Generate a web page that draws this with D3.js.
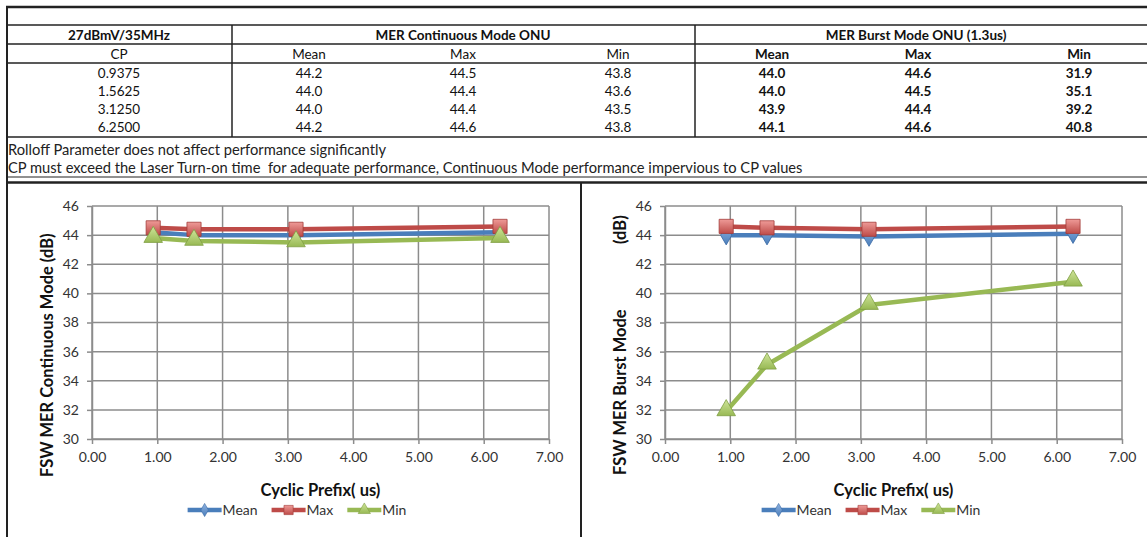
<!DOCTYPE html>
<html lang="en">
<head>
    <meta charset="UTF-8">
    <title>MER vs Cyclic Prefix</title>
    <script src="https://d3js.org/d3.v7.min.js"></script>
    <style>
        body {
            margin: 0;
            background: #fff;
        }

        svg {
            display: block;
            font-family: Lato, "Open Sans", sans-serif;
        }

        .cell {
            font-size: 13.5px;
            fill: #111;
        }

        .note {
            font-size: 14.7px;
            fill: #222;
            white-space: pre;
        }

        .tick text {
            font-size: 14px;
            fill: #333;
        }

        .axis-title {
            font-size: 16.5px;
            font-weight: bold;
            fill: #111;
        }

        .legend-label {
            font-size: 14px;
            fill: #333;
        }
    </style>
</head>
<body>
    <svg id="page" width="1147" height="537"></svg>
    <script>
        const cpValues = [0.9375, 1.5625, 3.125, 6.25];

        const contMean = [44.2, 44.0, 44.0, 44.2];
        const contMax  = [44.5, 44.4, 44.4, 44.6];
        const contMin  = [43.8, 43.6, 43.5, 43.8];

        const burstMean = [44.0, 44.0, 43.9, 44.1];
        const burstMax  = [44.6, 44.5, 44.4, 44.6];
        const burstMin  = [31.9, 35.1, 39.2, 40.8];

        const seriesNames = ["Mean", "Max", "Min"];
        const xTicks = [0, 1, 2, 3, 4, 5, 6, 7];
        const yTicks = [30, 32, 34, 36, 38, 40, 42, 44, 46];

        const notes = [
            "Rolloff Parameter does not affect performance significantly",
            "CP must exceed the Laser Turn-on time  for adequate performance, Continuous Mode performance impervious to CP values"
        ];

        const lineColors = { Mean: "#4a7ebb", Max: "#be4b48", Min: "#98b954" };
        const lightColors = { Mean: "#8fb2e0", Max: "#ee9a97", Min: "#cfe59a" };
        const edgeColors = { Mean: "#3a6aa5", Max: "#a23b38", Min: "#7f9e42" };

        const svg = d3.select("#page");
        const lineStroke = "#222";

        // ---------- table ----------
        const colX = [119, 309, 463, 618, 772, 918, 1079];
        const rowY = [73, 91, 109, 127];

        const tbl = svg.append("g");

        // horizontal rules
        [[7, 2.5], [25, 1.5], [44, 1.5], [63, 1.5], [137, 1.5], [177, 1.2], [182.5, 2.5]].forEach(([y, w]) => {
            tbl.append("line")
                .attr("x1", 6).attr("x2", 1147)
                .attr("y1", y).attr("y2", y)
                .attr("stroke", lineStroke)
                .attr("stroke-width", w);
        });
        // vertical rules
        tbl.append("line").attr("x1", 7).attr("x2", 7).attr("y1", 6).attr("y2", 184)
            .attr("stroke", lineStroke).attr("stroke-width", 2);
        [232, 695].forEach(x => {
            tbl.append("line").attr("x1", x).attr("x2", x).attr("y1", 25).attr("y2", 137)
                .attr("stroke", lineStroke).attr("stroke-width", 1.5);
        });

        // header row
        const headers = [["27dBmV/35MHz", 119], ["MER Continuous Mode ONU", 463], ["MER Burst Mode ONU (1.3us)", 916]];
        headers.forEach(([t, x]) => {
            tbl.append("text").attr("class", "cell")
                .attr("x", x).attr("y", 40)
                .attr("text-anchor", "middle")
                .style("font-weight", "bold")
                .text(t);
        });

        // sub header row
        const subHeaders = ["CP"].concat(seriesNames, seriesNames);
        subHeaders.forEach((t, i) => {
            tbl.append("text").attr("class", "cell")
                .attr("x", colX[i]).attr("y", 59)
                .attr("text-anchor", "middle")
                .style("font-weight", i >= 4 ? "bold" : "normal")
                .text(t);
        });

        // data rows
        const tableCols = [contMean, contMax, contMin, burstMean, burstMax, burstMin];
        cpValues.forEach((cp, r) => {
            const cells = [cp.toFixed(4)].concat(tableCols.map(col => col[r].toFixed(1)));
            cells.forEach((t, i) => {
                tbl.append("text").attr("class", "cell")
                    .attr("x", colX[i]).attr("y", rowY[r] + 5)
                    .attr("text-anchor", "middle")
                    .style("font-weight", i >= 4 ? "bold" : "normal")
                    .text(t);
            });
        });

        // notes
        notes.forEach((t, i) => {
            tbl.append("text").attr("class", "note")
                .attr("x", 8).attr("y", 155 + i * 18)
                .text(t);
        });

        // ---------- panels ----------
        svg.append("line").attr("x1", 581).attr("x2", 581).attr("y1", 183).attr("y2", 537)
            .attr("stroke", lineStroke).attr("stroke-width", 2);
        svg.append("line").attr("x1", 7).attr("x2", 7).attr("y1", 183).attr("y2", 537)
            .attr("stroke", lineStroke).attr("stroke-width", 2);

        // marker gradients
        const defs = svg.append("defs");
        seriesNames.forEach(name => {
            const g = defs.append("linearGradient")
                .attr("id", "grad-" + name)
                .attr("x1", 0).attr("y1", 0).attr("x2", 0).attr("y2", 1);
            g.append("stop").attr("offset", "0%").attr("stop-color", lightColors[name]);
            g.append("stop").attr("offset", "100%").attr("stop-color", lineColors[name]);
        });

        const symbols = { Mean: d3.symbolDiamond, Max: d3.symbolSquare, Min: d3.symbolTriangle };
        const markerSize = { Mean: 110, Max: 200, Min: 150 };
        const legendSize = { Mean: 50, Max: 85, Min: 65 };

        function drawChart(cfg) {
            const g = svg.append("g");

            const x = d3.scaleLinear().domain([0, 7]).range([cfg.left, cfg.right]);
            const y = d3.scaleLinear().domain([30, 46]).range([439, 206]);

            // gridlines
            g.append("g").selectAll("line.v")
                .data(xTicks)
                .join("line")
                .attr("x1", d => x(d)).attr("x2", d => x(d))
                .attr("y1", y(46)).attr("y2", y(30))
                .attr("stroke", "#8c8c8c").attr("stroke-width", 1.5);
            g.append("g").selectAll("line.h")
                .data(yTicks)
                .join("line")
                .attr("x1", x(0)).attr("x2", x(7))
                .attr("y1", d => y(d)).attr("y2", d => y(d))
                .attr("stroke", "#8c8c8c").attr("stroke-width", 1.5);

            // axes
            const xAxis = g.append("g")
                .attr("transform", `translate(0,${y(30)})`)
                .call(d3.axisBottom(x).tickValues(xTicks).tickFormat(d3.format(".2f"))
                    .tickSize(5).tickSizeOuter(0).tickPadding(8));
            const yAxis = g.append("g")
                .attr("transform", `translate(${x(0)},0)`)
                .call(d3.axisLeft(y).tickValues(yTicks).tickSize(5).tickSizeOuter(0).tickPadding(8));
            [xAxis, yAxis].forEach(a => {
                a.select(".domain").attr("stroke", "#8c8c8c").attr("stroke-width", 1.5);
                a.selectAll(".tick line").attr("stroke", "#8c8c8c").attr("stroke-width", 1.5);
                a.selectAll(".tick text").style("font-family", "Lato, sans-serif");
            });

            // series
            const line = d3.line()
                .x(d => x(d.cp))
                .y(d => y(d.v));

            cfg.series.forEach((vals, i) => {
                const name = seriesNames[i];
                const pts = cpValues.map((cp, k) => ({ cp: cp, v: vals[k] }));
                g.append("path")
                    .datum(pts)
                    .attr("d", line)
                    .attr("fill", "none")
                    .attr("stroke", lineColors[name])
                    .attr("stroke-width", 4.5)
                    .attr("stroke-linejoin", "round");
                g.append("g").selectAll("path")
                    .data(pts)
                    .join("path")
                    .attr("transform", d => `translate(${x(d.cp)},${y(d.v) + (name === "Min" ? -1 : 0)})`)
                    .attr("d", d3.symbol().type(symbols[name]).size(markerSize[name]))
                    .attr("fill", `url(#grad-${name})`)
                    .attr("stroke", edgeColors[name])
                    .attr("stroke-width", 0.8);
            });

            // axis titles
            const cx = (cfg.left + cfg.right) / 2;
            g.append("text").attr("class", "axis-title")
                .attr("x", cx).attr("y", 496)
                .attr("text-anchor", "middle")
                .text("Cyclic Prefix( us)");

            cfg.yTitles.forEach(([t, yEnd]) => {
                g.append("text").attr("class", "axis-title")
                    .attr("transform", `translate(${cfg.titleX},${yEnd}) rotate(-90)`)
                    .attr("text-anchor", "start")
                    .text(t);
            });

            // legend, centred in the panel
            const leg = g.append("g");
            let off = 0;
            seriesNames.forEach(name => {
                const item = leg.append("g").attr("transform", `translate(${off},0)`);
                item.append("line")
                    .attr("x1", 0).attr("x2", 34).attr("y1", 0).attr("y2", 0)
                    .attr("stroke", lineColors[name]).attr("stroke-width", 4.5);
                item.append("path")
                    .attr("transform", "translate(17,0)")
                    .attr("d", d3.symbol().type(symbols[name]).size(legendSize[name]))
                    .attr("fill", `url(#grad-${name})`)
                    .attr("stroke", edgeColors[name]).attr("stroke-width", 0.6);
                const txt = item.append("text").attr("class", "legend-label")
                    .attr("x", 35).attr("y", 5)
                    .text(name);
                off += 35 + txt.node().getComputedTextLength() + 14;
            });
            off -= 14;
            leg.attr("transform", `translate(${cfg.panelCenter - off / 2},510)`);
        }

        drawChart({
            left: 92, right: 549, titleX: 53, panelCenter: 297,
            series: [contMean, contMax, contMin],
            yTitles: [["FSW MER Continuous Mode (dB)", 477]]
        });

        drawChart({
            left: 665, right: 1122, titleX: 626, panelCenter: 871,
            series: [burstMean, burstMax, burstMin],
            yTitles: [["FSW MER Burst Mode", 475], ["(dB)", 244]]
        });
    </script>
</body>
</html>
